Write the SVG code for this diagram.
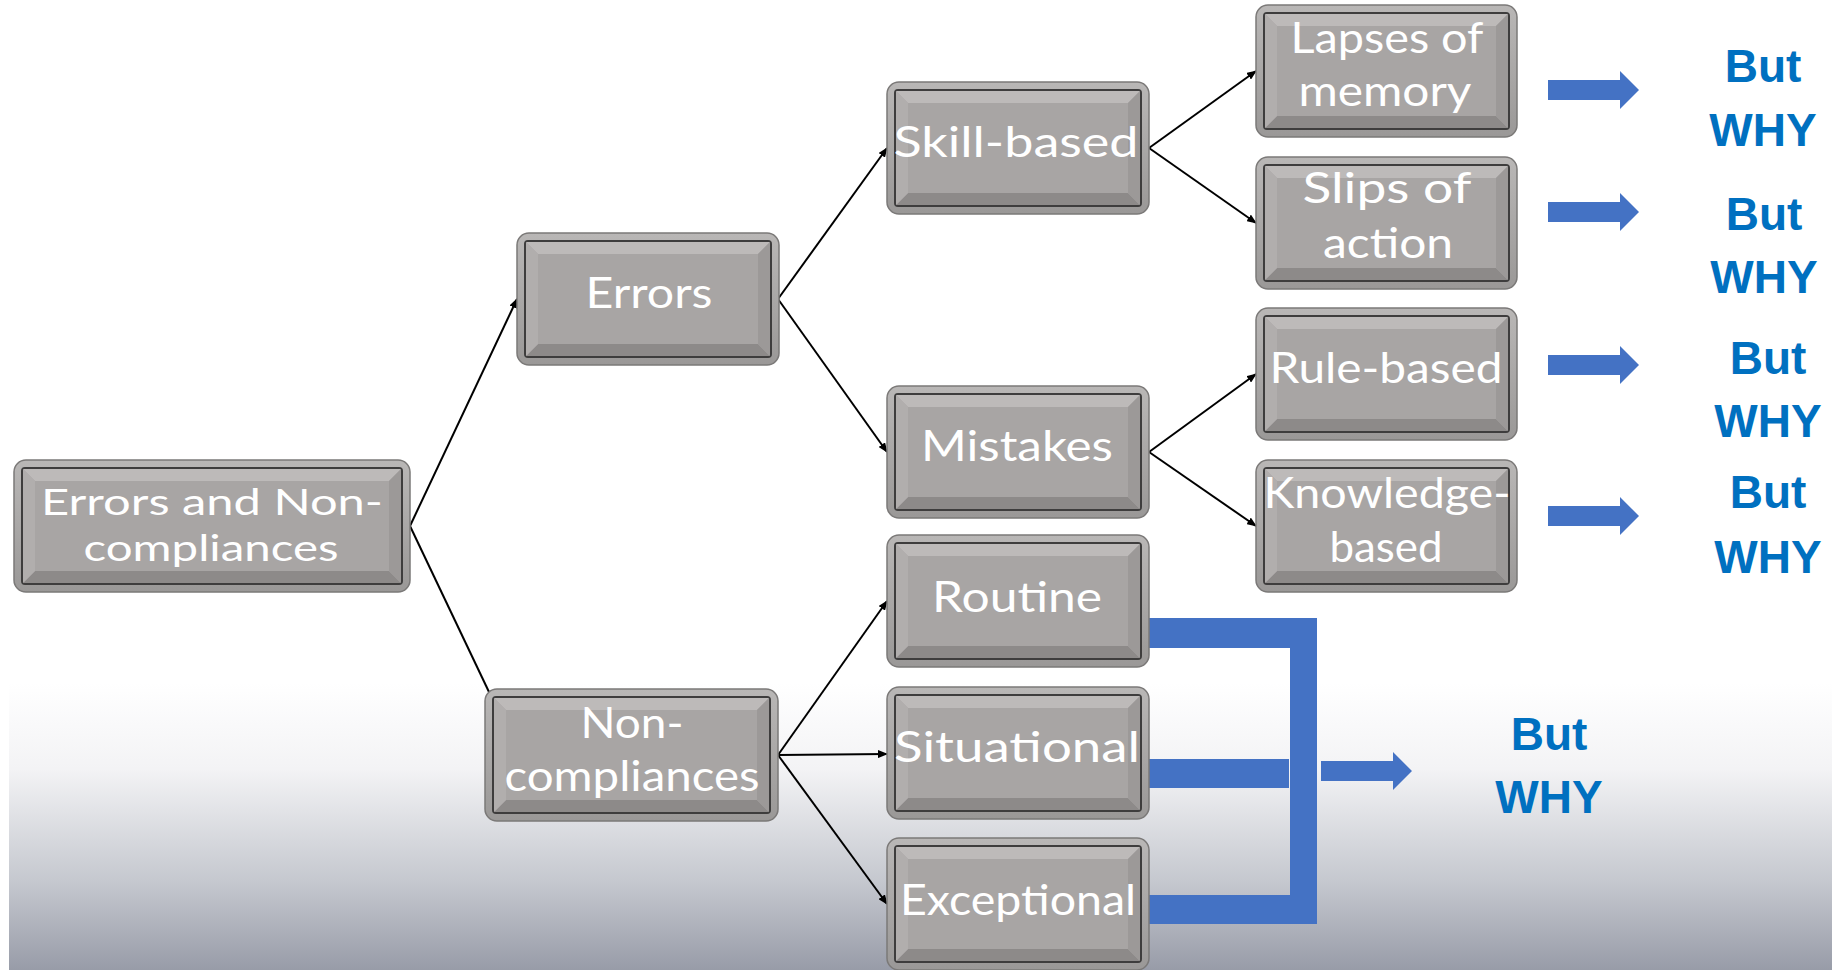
<svg xmlns="http://www.w3.org/2000/svg" width="1832" height="970" viewBox="0 0 1832 970">
<defs>
<linearGradient id="bg" x1="0" y1="0" x2="0" y2="1">
<stop offset="0" stop-color="#ffffff"/>
<stop offset="0.3" stop-color="#f3f3f5"/>
<stop offset="0.7" stop-color="#c4c7ce"/>
<stop offset="1" stop-color="#989ca8"/>
</linearGradient>
<linearGradient id="ring" x1="0" y1="0" x2="0" y2="1">
<stop offset="0" stop-color="#b9b7b6"/>
<stop offset="1" stop-color="#9a9897"/>
</linearGradient>
<marker id="ah" markerUnits="userSpaceOnUse" markerWidth="10" markerHeight="8" refX="9" refY="4" orient="auto">
<path d="M0,0 L10,4 L0,8 Z" fill="#000"/>
</marker>
<path id="barrow" d="M0,-10 H72 V-19 L91,0 L72,19 V10 H0 Z" fill="#4472C4"/>
</defs>
<style>
.outer{fill:url(#ring);stroke:#7b7978;stroke-width:1.5}
.inner{fill:#a8a5a4;stroke:#3e3d3d;stroke-width:2}
.bt{fill:#bdbab9}
.bb{fill:#8d8a89}
.bl{fill:#b1aead}
.br{fill:#9c9998}
.lbl{font-family:Lato,"Liberation Sans",sans-serif;font-size:42px;fill:#ffffff;text-anchor:middle}
.sm{font-size:36px}
.why{font-family:"Liberation Sans",Arial,sans-serif;font-weight:bold;font-size:46px;fill:#0070C0;text-anchor:middle}
.con{stroke:#000;stroke-width:2;fill:none}
.blue{fill:#4472C4}
</style>
<rect x="0" y="0" width="1832" height="970" fill="#ffffff"/>
<rect x="9" y="683" width="1823" height="287" fill="url(#bg)"/>

<g id="connectors">
<line class="con" x1="410" y1="526" x2="517" y2="299" marker-end="url(#ah)"/>
<line class="con" x1="410" y1="526" x2="489" y2="692"/>
<line class="con" x1="778" y1="299" x2="887" y2="148" marker-end="url(#ah)"/>
<line class="con" x1="778" y1="299" x2="887" y2="452" marker-end="url(#ah)"/>
<line class="con" x1="1149" y1="148" x2="1256" y2="71" marker-end="url(#ah)"/>
<line class="con" x1="1149" y1="148" x2="1256" y2="223" marker-end="url(#ah)"/>
<line class="con" x1="1149" y1="452" x2="1256" y2="374" marker-end="url(#ah)"/>
<line class="con" x1="1149" y1="452" x2="1256" y2="526" marker-end="url(#ah)"/>
<line class="con" x1="778" y1="755" x2="887" y2="601" marker-end="url(#ah)"/>
<line class="con" x1="778" y1="755" x2="887" y2="754" marker-end="url(#ah)"/>
<line class="con" x1="778" y1="755" x2="887" y2="904" marker-end="url(#ah)"/>
<path class="blue" d="M1149,618 H1317 V924 H1149 V895 H1290 V648 H1149 Z"/>
<rect class="blue" x="1149" y="759" width="140" height="29"/>
<use href="#barrow" transform="translate(1548,90)"/>
<use href="#barrow" transform="translate(1548,212)"/>
<use href="#barrow" transform="translate(1548,365)"/>
<use href="#barrow" transform="translate(1548,516)"/>
<use href="#barrow" transform="translate(1321,771)"/>
</g>

<g id="root">
<rect class="outer" x="14" y="460" width="396" height="132" rx="12"/>
<rect class="inner" x="22" y="468" width="380" height="116" rx="3"/>
<polygon class="bt" points="23,469 401,469 389,481 35,481"/>
<polygon class="bb" points="23,583 401,583 389,571 35,571"/>
<polygon class="bl" points="23,469 35,481 35,571 23,583"/>
<polygon class="br" points="401,469 389,481 389,571 401,583"/>
<text class="lbl sm" x="212" y="515" textLength="342" lengthAdjust="spacingAndGlyphs">Errors and Non-</text>
<text class="lbl sm" x="211" y="561" textLength="255" lengthAdjust="spacingAndGlyphs">compliances</text>
</g>

<g id="errors">
<rect class="outer" x="517" y="233" width="262" height="132" rx="12"/>
<rect class="inner" x="525" y="241" width="246" height="116" rx="3"/>
<polygon class="bt" points="526,242 770,242 758,254 538,254"/>
<polygon class="bb" points="526,356 770,356 758,344 538,344"/>
<polygon class="bl" points="526,242 538,254 538,344 526,356"/>
<polygon class="br" points="770,242 758,254 758,344 770,356"/>
<text class="lbl" x="649" y="308" textLength="127" lengthAdjust="spacingAndGlyphs">Errors</text>
</g>

<g id="noncompliances">
<rect class="outer" x="485" y="689" width="293" height="132" rx="12"/>
<rect class="inner" x="493" y="697" width="277" height="116" rx="3"/>
<polygon class="bt" points="494,698 769,698 757,710 506,710"/>
<polygon class="bb" points="494,812 769,812 757,800 506,800"/>
<polygon class="bl" points="494,698 506,710 506,800 494,812"/>
<polygon class="br" points="769,698 757,710 757,800 769,812"/>
<text class="lbl" x="632" y="738" textLength="103" lengthAdjust="spacingAndGlyphs">Non-</text>
<text class="lbl" x="632" y="791" textLength="255" lengthAdjust="spacingAndGlyphs">compliances</text>
</g>

<g id="skillbased">
<rect class="outer" x="887" y="82" width="262" height="132" rx="12"/>
<rect class="inner" x="895" y="90" width="246" height="116" rx="3"/>
<polygon class="bt" points="896,91 1140,91 1128,103 908,103"/>
<polygon class="bb" points="896,205 1140,205 1128,193 908,193"/>
<polygon class="bl" points="896,91 908,103 908,193 896,205"/>
<polygon class="br" points="1140,91 1128,103 1128,193 1140,205"/>
<text class="lbl" x="1016" y="157" textLength="245" lengthAdjust="spacingAndGlyphs">Skill-based</text>
</g>

<g id="mistakes">
<rect class="outer" x="887" y="386" width="262" height="132" rx="12"/>
<rect class="inner" x="895" y="394" width="246" height="116" rx="3"/>
<polygon class="bt" points="896,395 1140,395 1128,407 908,407"/>
<polygon class="bb" points="896,509 1140,509 1128,497 908,497"/>
<polygon class="bl" points="896,395 908,407 908,497 896,509"/>
<polygon class="br" points="1140,395 1128,407 1128,497 1140,509"/>
<text class="lbl" x="1017" y="461" textLength="192" lengthAdjust="spacingAndGlyphs">Mistakes</text>
</g>

<g id="routine">
<rect class="outer" x="887" y="535" width="262" height="132" rx="12"/>
<rect class="inner" x="895" y="543" width="246" height="116" rx="3"/>
<polygon class="bt" points="896,544 1140,544 1128,556 908,556"/>
<polygon class="bb" points="896,658 1140,658 1128,646 908,646"/>
<polygon class="bl" points="896,544 908,556 908,646 896,658"/>
<polygon class="br" points="1140,544 1128,556 1128,646 1140,658"/>
<text class="lbl" x="1017" y="612" textLength="170" lengthAdjust="spacingAndGlyphs">Routine</text>
</g>

<g id="situational">
<rect class="outer" x="887" y="687" width="262" height="132" rx="12"/>
<rect class="inner" x="895" y="695" width="246" height="116" rx="3"/>
<polygon class="bt" points="896,696 1140,696 1128,708 908,708"/>
<polygon class="bb" points="896,810 1140,810 1128,798 908,798"/>
<polygon class="bl" points="896,696 908,708 908,798 896,810"/>
<polygon class="br" points="1140,696 1128,708 1128,798 1140,810"/>
<text class="lbl" x="1017" y="762" textLength="246" lengthAdjust="spacingAndGlyphs">Situational</text>
</g>

<g id="exceptional">
<rect class="outer" x="887" y="838" width="262" height="132" rx="12"/>
<rect class="inner" x="895" y="846" width="246" height="116" rx="3"/>
<polygon class="bt" points="896,847 1140,847 1128,859 908,859"/>
<polygon class="bb" points="896,961 1140,961 1128,949 908,949"/>
<polygon class="bl" points="896,847 908,859 908,949 896,961"/>
<polygon class="br" points="1140,847 1128,859 1128,949 1140,961"/>
<text class="lbl" x="1018" y="915" textLength="236" lengthAdjust="spacingAndGlyphs">Exceptional</text>
</g>

<g id="lapses">
<rect class="outer" x="1256" y="5" width="261" height="132" rx="12"/>
<rect class="inner" x="1264" y="13" width="245" height="116" rx="3"/>
<polygon class="bt" points="1265,14 1508,14 1496,26 1277,26"/>
<polygon class="bb" points="1265,128 1508,128 1496,116 1277,116"/>
<polygon class="bl" points="1265,14 1277,26 1277,116 1265,128"/>
<polygon class="br" points="1508,14 1496,26 1496,116 1508,128"/>
<text class="lbl" x="1387" y="53" textLength="193" lengthAdjust="spacingAndGlyphs">Lapses of</text>
<text class="lbl" x="1385" y="106" textLength="173" lengthAdjust="spacingAndGlyphs">memory</text>
</g>

<g id="slips">
<rect class="outer" x="1256" y="157" width="261" height="132" rx="12"/>
<rect class="inner" x="1264" y="165" width="245" height="116" rx="3"/>
<polygon class="bt" points="1265,166 1508,166 1496,178 1277,178"/>
<polygon class="bb" points="1265,280 1508,280 1496,268 1277,268"/>
<polygon class="bl" points="1265,166 1277,178 1277,268 1265,280"/>
<polygon class="br" points="1508,166 1496,178 1496,268 1508,280"/>
<text class="lbl" x="1387" y="203" textLength="169" lengthAdjust="spacingAndGlyphs">Slips of</text>
<text class="lbl" x="1388" y="258" textLength="130" lengthAdjust="spacingAndGlyphs">action</text>
</g>

<g id="rulebased">
<rect class="outer" x="1256" y="308" width="261" height="132" rx="12"/>
<rect class="inner" x="1264" y="316" width="245" height="116" rx="3"/>
<polygon class="bt" points="1265,317 1508,317 1496,329 1277,329"/>
<polygon class="bb" points="1265,431 1508,431 1496,419 1277,419"/>
<polygon class="bl" points="1265,317 1277,329 1277,419 1265,431"/>
<polygon class="br" points="1508,317 1496,329 1496,419 1508,431"/>
<text class="lbl" x="1386" y="383" textLength="233" lengthAdjust="spacingAndGlyphs">Rule-based</text>
</g>

<g id="knowledgebased">
<rect class="outer" x="1256" y="460" width="261" height="132" rx="12"/>
<rect class="inner" x="1264" y="468" width="245" height="116" rx="3"/>
<polygon class="bt" points="1265,469 1508,469 1496,481 1277,481"/>
<polygon class="bb" points="1265,583 1508,583 1496,571 1277,571"/>
<polygon class="bl" points="1265,469 1277,481 1277,571 1265,583"/>
<polygon class="br" points="1508,469 1496,481 1496,571 1508,583"/>
<text class="lbl" x="1387" y="508" textLength="247" lengthAdjust="spacingAndGlyphs">Knowledge-</text>
<text class="lbl" x="1386" y="562" textLength="113" lengthAdjust="spacingAndGlyphs">based</text>
</g>

<g id="why1"><text class="why" x="1763" y="82">But</text><text class="why" x="1763" y="146">WHY</text></g>
<g id="why2"><text class="why" x="1764" y="230">But</text><text class="why" x="1764" y="293">WHY</text></g>
<g id="why3"><text class="why" x="1768" y="374">But</text><text class="why" x="1768" y="437">WHY</text></g>
<g id="why4"><text class="why" x="1768" y="508">But</text><text class="why" x="1768" y="573">WHY</text></g>
<g id="why5"><text class="why" x="1549" y="750">But</text><text class="why" x="1549" y="813">WHY</text></g>
</svg>
